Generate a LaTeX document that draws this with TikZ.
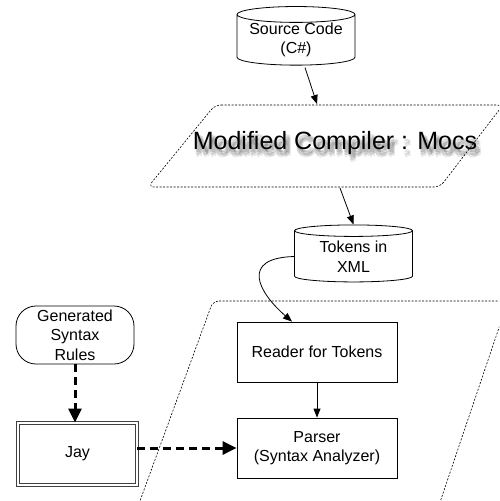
\documentclass[tikz,border=0pt]{standalone}
\usepackage{fontspec}
\setmainfont{Liberation Sans}
\usetikzlibrary{shapes.geometric,arrows.meta,calc}
\begin{document}
\begin{tikzpicture}[x=1pt,y=-1pt,font=\fontsize{16}{19.5}\selectfont]
        % Styles
        \tikzstyle{store}=[cylinder,shape border rotate=90,draw,line width=0.8pt,aspect=0.17,
            minimum width=118pt,minimum height=57pt,inner sep=0pt,align=center]
        \tikzstyle{process}=[draw,line width=0.8pt,minimum width=160pt,minimum height=60pt,align=center]
        \tikzstyle{terminal}=[draw,line width=0.8pt,rounded corners=20pt,minimum width=118pt,
            minimum height=58pt,align=center]
        \tikzstyle{tool}=[draw=black!75,double,double distance=2pt,line width=0.9pt,
            minimum width=119pt,minimum height=62pt]
        \tikzstyle{frame}=[line width=0.6pt,dash pattern=on 2pt off 1.5pt,rounded corners=6pt]
        \tikzstyle{flow}=[line width=0.8pt,-{Triangle[length=9pt,width=7pt]}]
        \tikzstyle{feed}=[line width=3pt,dash pattern=on 8pt off 5pt,-{Triangle[length=14pt,width=13pt]}]
        \tikzstyle{big}=[font=\fontsize{25}{30}\selectfont]
        %The graphic
        \useasboundingbox (0,0) rectangle (499,501);
        \clip (0,0) rectangle (499,501);
        %frames
        \draw[frame] (215,105) -- (503,105) -- (440,187) -- (148,187) -- cycle;
        \draw[frame] (213,301) -- (508,301) -- (434,520) -- (133,520) -- cycle;
        %blurred shadow of the title
        \foreach \dx/\dy [count=\i] in {1/3,3/3,5/4,1/6,3/6,5/7,2/8,4/5}
            \node[big,opacity=0.09] (blur\i) at (335+\dx,143+\dy) {Modified Compiler : Mocs};
        \node[big] (comp) at (335,143) {Modified Compiler : Mocs};
        \coordinate (compTop) at (317,104);
        \coordinate (compBot) at (340,188);
        %nodes
        \node[store] (src) at (296,40) {Source Code\\(C\#)};
        \node[store] (tok) at (353.5,256.5) {Tokens in\\XML};
        \node[process] (reader) at (317,352) {Reader for Tokens};
        \node[process] (parser) at (317,448) {Parser\\(Syntax Analyzer)};
        \node[terminal] (gen) at (75,335) {Generated\\Syntax\\Rules};
        \node[tool] (jay) at (77.5,454) {Jay};
        %connectors
        \draw[flow] ($(src.south)+(9,2)$) -- (compTop);
        \draw[flow] (compBot) -- (tok.north);
        \draw[flow] (tok.west) .. controls (240,258) and (258,292) .. ($(reader.north)+(-25,0)$);
        \draw[flow] (reader) -- (parser);
        \draw[feed] (gen.south) -- (gen.south |- jay.north);
        \draw[feed] (jay.east |- parser.west) -- (parser.west);
    \end{tikzpicture}
\end{document}
